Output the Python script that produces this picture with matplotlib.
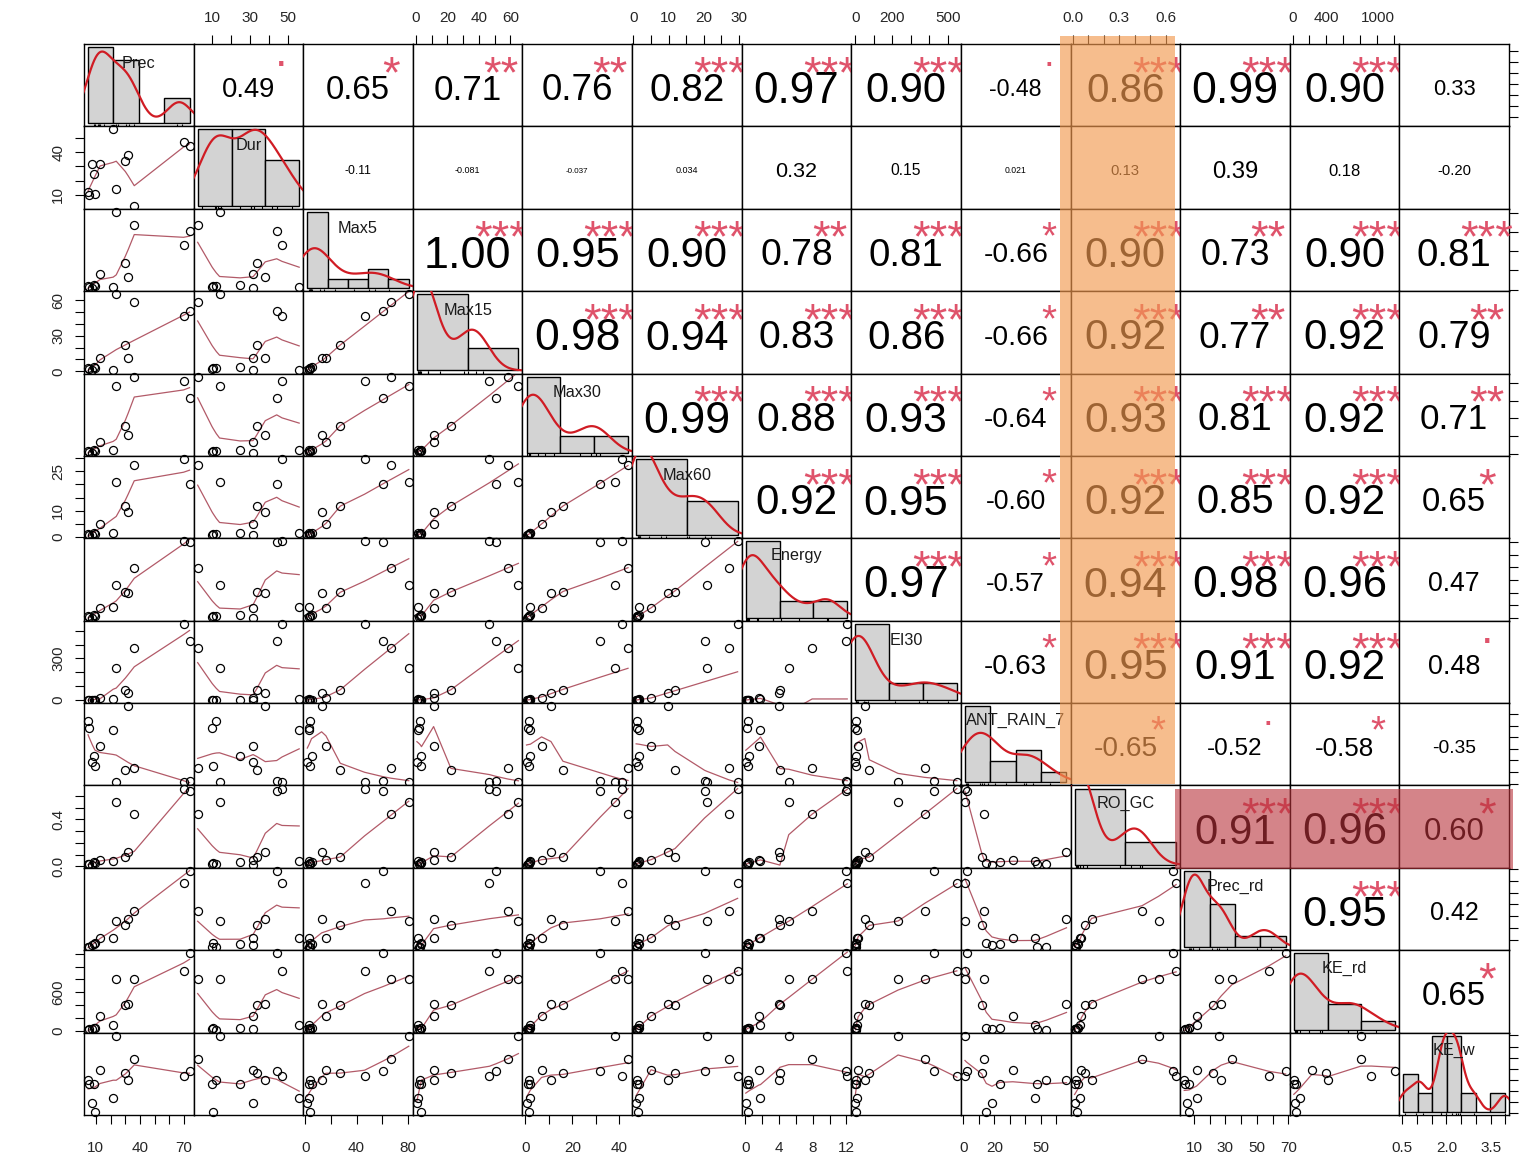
import math
import numpy as np
import matplotlib
matplotlib.use("Agg")
import matplotlib.pyplot as plt
from matplotlib.patches import Rectangle
from matplotlib.textpath import TextPath
from matplotlib.font_manager import FontProperties

plt.rcParams['font.family'] = ['Liberation Sans', 'DejaVu Sans']

# 13 storm events, 13 variables
names = ['Prec', 'Dur', 'Max5', 'Max15', 'Max30', 'Max60', 'Energy', 'EI30',
         'ANT_RAIN_7', 'RO_GC', 'Prec_rd', 'KE_rd', 'KE_w']
prec = [4.7, 5.2, 7.5, 8.8, 9.5, 12.9, 21.8, 23.9, 30.1, 32.1, 36.2, 69.8, 73.9]
dur = [12.3, 10.0, 31.6, 24.8, 10.7, 31.6, 55.8, 14.0, 33.5, 38.0, 2.5, 46.8, 44.0]
max5 = [3.6, 3.0, 1.5, 4.8, 3.9, 16.1, 2.9, 80.9, 27.3, 12.7, 67.1, 46.3, 61.0]
max15 = [2.8, 2.2, 0.7, 3.6, 3.0, 11.3, 1.4, 65.1, 22.3, 11.3, 58.6, 46.7, 50.6]
max30 = [1.6, 1.2, 0.5, 2.0, 1.7, 6.9, 2.1, 38.2, 16.0, 10.9, 43.7, 41.3, 31.8]
max60 = [1.1, 0.9, 0.75, 1.6, 1.2, 5.0, 1.6, 20.9, 11.8, 9.7, 27.2, 29.6, 20.2]
energy = [0.25, 0.18, 0.04, 0.45, 0.30, 1.59, 1.79, 5.15, 4.09, 3.98, 7.93, 12.1, 11.96]
ei30 = [2.0, 1.5, 1.0, 4.0, 2.5, 16.0, 8.7, 232.0, 76.0, 52.0, 376.0, 550.0, 424.0]
ant_rain = [53.8, 48.0, 18.5, 23.4, 14.8, 32.0, 46.5, 1.0, 11.9, 66.8, 13.3, 1.2, 2.0]
ro_gc = [0.020, 0.016, 0.0126, 0.035, 0.025, 0.056, 0.049, 0.552, 0.079, 0.122, 0.446, 0.665, 0.645]
prec_rd = [3.8, 4.3, 5.6, 6.6, 7.0, 11.7, 11.7, 25.9, 22.2, 27.3, 34.1, 57.7, 68.3]
ke_rd = [15.6, 20.0, 30.0, 45.0, 40.0, 227.0, 90.0, 804.0, 393.0, 420.0, 804.0, 929.0, 1210.0]
ke_w = [1.98, 1.79, 0.95, 1.79, 0.54, 2.45, 1.18, 3.99, 2.32, 1.97, 2.92, 2.17, 2.38]
data = [prec, dur, max5, max15, max30, max60, energy, ei30, ant_rain, ro_gc, prec_rd, ke_rd, ke_w]

# correlations printed in the upper panels (row i, columns i+1 ..)
corr_rows = [
    [0.49, 0.65, 0.71, 0.76, 0.82, 0.97, 0.90, -0.48, 0.86, 0.99, 0.90, 0.33],
    [-0.11, -0.081, -0.037, 0.034, 0.32, 0.15, 0.021, 0.13, 0.39, 0.18, -0.20],
    [1.00, 0.95, 0.90, 0.78, 0.81, -0.66, 0.90, 0.73, 0.90, 0.81],
    [0.98, 0.94, 0.83, 0.86, -0.66, 0.92, 0.77, 0.92, 0.79],
    [0.99, 0.88, 0.93, -0.64, 0.93, 0.81, 0.92, 0.71],
    [0.92, 0.95, -0.60, 0.92, 0.85, 0.92, 0.65],
    [0.97, -0.57, 0.94, 0.98, 0.96, 0.47],
    [-0.63, 0.95, 0.91, 0.92, 0.48],
    [-0.65, -0.52, -0.58, -0.35],
    [0.91, 0.96, 0.60],
    [0.95, 0.42],
    [0.65],
]

# axis ticks: step and which ticks carry a label
tick_step = [10, 10, 20, 10, 10, 5, 2, 100, 10, 0.1, 10, 200, 0.5]
xlab_vals = [[10, 40, 70], [10, 30, 50], [0, 40, 80], [0, 20, 40, 60], [0, 20, 40],
             [0, 10, 20, 30], [0, 4, 8, 12], [0, 200, 500], [0, 20, 50],
             [0.0, 0.3, 0.6], [10, 30, 50, 70], [0, 400, 1000], [0.5, 2.0, 3.5]]
ylab_vals = [[], [10, 40], [], [0, 30, 60], [], [0, 10, 25], [], [0, 300], [],
             [0.0, 0.4], [], [0, 600], []]


def r_pretty(lo, up, ndiv, min_n=1):
    dx = up - lo
    cell = dx / ndiv
    h, h5 = 1.5, 2.75
    base = 10 ** math.floor(math.log10(cell))
    unit = base
    if 2 * base - cell < h * (cell - unit):
        unit = 2 * base
        if 5 * base - cell < h5 * (cell - unit):
            unit = 5 * base
            if 10 * base - cell < h * (cell - unit):
                unit = 10 * base
    ns = math.floor(lo / unit + 1e-7)
    nu = math.ceil(up / unit - 1e-7)
    k = int(0.5 + nu - ns)
    if k < min_n:
        k = min_n - k
        nu += k // 2
        ns -= k // 2 + k % 2
    return np.arange(ns, nu + 1) * unit


def fd_breaks(x):
    x = np.asarray(x, float)
    q1, q3 = np.percentile(x, [25, 75])
    h = 2 * (q3 - q1)
    nb = math.ceil((x.max() - x.min()) / (h * len(x) ** (-1 / 3))) if h > 0 else 1
    return r_pretty(x.min(), x.max(), nb)


def r_density(x):
    x = np.asarray(x, float)
    n = len(x)
    sd = x.std(ddof=1)
    q1, q3 = np.percentile(x, [25, 75])
    lo = min(sd, (q3 - q1) / 1.34) or sd
    bw = 0.9 * lo * n ** -0.2
    g = np.linspace(x.min() - 3 * bw, x.max() + 3 * bw, 512)
    d = np.exp(-0.5 * ((g[:, None] - x[None, :]) / bw) ** 2).sum(1) / (n * bw * np.sqrt(2 * np.pi))
    return g, d


def lowest(x, y, xs, nleft, nright, userw, rw):
    n = len(x)
    rng = x[-1] - x[0]
    h = max(xs - x[nleft], x[nright] - xs)
    h9, h1 = 0.999 * h, 0.001 * h
    w = np.zeros(n)
    a = 0.0
    j = nleft
    while j < n:
        r = abs(x[j] - xs)
        if r <= h9:
            w[j] = 1.0 if r <= h1 else (1 - (r / h) ** 3) ** 3
            if userw:
                w[j] *= rw[j]
            a += w[j]
        elif x[j] > xs:
            break
        j += 1
    nrt = j - 1
    if a <= 0:
        return 0.0, False
    sl = slice(nleft, nrt + 1)
    w[sl] /= a
    if h > 0:
        a = np.sum(w[sl] * x[sl])
        b = xs - a
        c = np.sum(w[sl] * (x[sl] - a) ** 2)
        if math.sqrt(c) > 0.001 * rng:
            b /= c
            w[sl] = w[sl] * (b * (x[sl] - a) + 1)
    return float(np.sum(w[sl] * y[sl])), True


def lowess(x, y, f=2 / 3, nsteps=3):
    o = np.argsort(x, kind='stable')
    x = np.asarray(x, float)[o]
    y = np.asarray(y, float)[o]
    n = len(x)
    delta = 0.01 * (x[-1] - x[0])
    ns = max(2, min(n, int(f * n + 1e-7)))
    ys = np.zeros(n)
    rw = np.ones(n)
    for it in range(nsteps + 1):
        nleft, nright = 0, ns - 1
        last = -1
        i = 0
        while True:
            if nright < n - 1 and x[i] - x[nleft] > x[nright + 1] - x[i]:
                nleft += 1
                nright += 1
                continue
            val, ok = lowest(x, y, x[i], nleft, nright, it > 0, rw)
            ys[i] = val if ok else y[i]
            if last < i - 1:
                den = x[i] - x[last]
                for j in range(last + 1, i):
                    al = (x[j] - x[last]) / den
                    ys[j] = al * ys[i] + (1 - al) * ys[last]
            last = i
            cut = x[last] + delta
            i = last + 1
            while i < n:
                if x[i] > cut:
                    break
                if x[i] == x[last]:
                    ys[i] = ys[last]
                    last = i
                i += 1
            i = max(last + 1, i - 1)
            if last >= n - 1:
                break
        res = y - ys
        if it >= nsteps:
            break
        sc = np.mean(np.abs(res))
        cmad = 6 * np.median(np.abs(res))
        if cmad < 1e-7 * sc:
            break
        r = np.abs(res)
        rw = np.where(r <= 0.001 * cmad, 1.0,
                      np.where(r <= 0.999 * cmad, (1 - (r / cmad) ** 2) ** 2, 0.0))
    return x, ys


def cor_pvalue(r, n):
    df = n - 2
    r = min(abs(r), 0.999999)
    t = r * math.sqrt(df / (1 - r * r))
    g = np.linspace(0, t, 40001)
    c = math.gamma((df + 1) / 2) / (math.sqrt(df * math.pi) * math.gamma(df / 2))
    pdf = c * (1 + g ** 2 / df) ** (-(df + 1) / 2)
    return max(0.0, 1 - 2 * np.trapezoid(pdf, g))


def signif(p):
    for cut, s in [(0.001, '***'), (0.01, '**'), (0.05, '*'), (0.1, '.')]:
        if p < cut:
            return s
    return ''


def fmt_r(r):
    return f"{r:.3f}" if abs(r) < 0.1 else f"{r:.2f}"


adv = {'.': 0.278, '-': 0.333}


def width_em(s):
    return sum(adv.get(ch, 0.556) for ch in s)


fp = FontProperties(family='Liberation Sans')


def ink_text(ax, xf, yf, s, em_px, color, ph, dy=-2.5):
    bb = TextPath((0, 0), s, size=1, prop=fp).get_extents()
    yc = (bb.y0 + bb.y1) / 2
    ybase = (yf * ph + dy - yc * em_px) / ph
    ax.text(xf, ybase, s, transform=ax.transAxes, ha='center', va='baseline',
            fontsize=em_px * 0.72, color=color, zorder=5)


n = len(names)
nobs = len(prec)
W, H = 1526, 1154
fig = plt.figure(figsize=(W / 100, H / 100), dpi=100)
L0, R0, T0, B0 = 84, 1509, 44, 1115
pw = (R0 - L0) / n
ph = (B0 - T0) / n

lims = []
ticks = []
for i, v in enumerate(data):
    lo, hi = min(v), max(v)
    span = hi - lo
    lims.append((lo - 0.04 * span, hi + 0.04 * span))
    st = tick_step[i]
    k0 = math.ceil(lims[i][0] / st - 1e-9)
    k1 = math.floor(lims[i][1] / st + 1e-9)
    ticks.append([k * st for k in range(k0, k1 + 1)])


def tick_fmt(v, st):
    return f"{v:.1f}" if st < 1 else f"{int(round(v))}"


def labels_for(i, chosen):
    return [tick_fmt(t, tick_step[i]) if any(abs(t - c) < 1e-9 for c in chosen) else ''
            for t in ticks[i]]


smooth_col = '#B25A68'
star_col = '#DF536B'
label_em = 16.3

for r in range(n):
    for c in range(n):
        rect = [(L0 + c * pw) / W, 1 - (T0 + (r + 1) * ph) / H, pw / W, ph / H]
        ax = fig.add_axes(rect)
        ax.set_xlim(lims[c])
        ax.set_ylim(lims[r])
        for sp in ax.spines.values():
            sp.set_linewidth(1.0)
        top = r == 0 and c % 2 == 1
        bottom = r == n - 1 and c % 2 == 0
        left = c == 0 and r % 2 == 1
        right = c == n - 1 and r % 2 == 0
        if top or bottom:
            ax.set_xticks(ticks[c])
            ax.set_xticklabels(labels_for(c, xlab_vals[c]))
        else:
            ax.set_xticks([])
        if left or right:
            ax.set_yticks(ticks[r])
            ax.set_yticklabels(labels_for(r, ylab_vals[r]), rotation=90, va='center')
        else:
            ax.set_yticks([])
        ax.tick_params(axis='x', top=top, bottom=bottom, labeltop=top, labelbottom=bottom,
                       direction='out', length=6.5, width=0.8, labelsize=11,
                       labelcolor='#262626', pad=12 if bottom else 7.5)
        ax.tick_params(axis='y', left=left, right=right, labelleft=left, labelright=False,
                       direction='out', length=6.5, width=0.8, labelsize=11,
                       labelcolor='#262626', pad=7)

        if r > c:
            ax.plot(data[c], data[r], 'o', mfc='none', mec='black', ms=5.8, mew=0.9,
                    clip_on=False, zorder=3)
            lx, ly = lowess(data[c], data[r])
            ax.plot(lx, ly, color=smooth_col, lw=0.9, zorder=2)
        elif r < c:
            rv = corr_rows[r][c - r - 1]
            txt = fmt_r(rv)
            cex_em = 0.8 * pw / width_em(txt)
            ink_text(ax, 0.5, 0.5, txt, cex_em * (abs(rv) + 0.3) / 1.3, 'black', ph)
            st = signif(cor_pvalue(rv, nobs))
            if st:
                ink_text(ax, 0.8, 0.8, st, cex_em, star_col, ph, dy=-3.5)
        else:
            x = np.asarray(data[r], float)
            br = fd_breaks(x)
            idx = np.clip(np.searchsorted(br, x, side='left') - 1, 0, len(br) - 2)
            counts = np.bincount(idx, minlength=len(br) - 1)
            dens = counts / (len(x) * np.diff(br))
            hax = fig.add_axes(rect, label=f'hist{r}')
            hax.set_axis_off()
            hax.patch.set_visible(False)
            bspan = br[-1] - br[0]
            hax.set_xlim(br[0] - 0.04 * bspan, br[-1] + 0.04 * bspan)
            dmax = dens.max()
            hax.set_ylim(-0.04 * dmax, 1.04 * dmax)
            hax.bar(br[:-1], dens, width=np.diff(br), align='edge', color='#D3D3D3',
                    edgecolor='black', lw=1.0, zorder=1)
            g, d = r_density(x)
            hax.plot(g, d, color='#D01C24', lw=1.6, zorder=2)
            hax.vlines(x, 0, 0.03, transform=hax.get_xaxis_transform(), color='black',
                       lw=0.8, zorder=3)
            ink_text(hax, 0.5, 0.833, names[r], label_em, '#1a1a1a', ph, dy=-4.5)

# highlighted cells
fig.add_artist(Rectangle((1059.5 / W, 1 - 784 / H), 115.5 / W, 748 / H,
                         transform=fig.transFigure, facecolor='#F29A50', alpha=0.65,
                         edgecolor='none', zorder=10))
fig.add_artist(Rectangle((1175 / W, 1 - 869 / H), 338 / W, 80 / H,
                         transform=fig.transFigure, facecolor='#B8323A', alpha=0.6,
                         edgecolor='none', zorder=10))

fig.savefig('out.png', dpi=100)
